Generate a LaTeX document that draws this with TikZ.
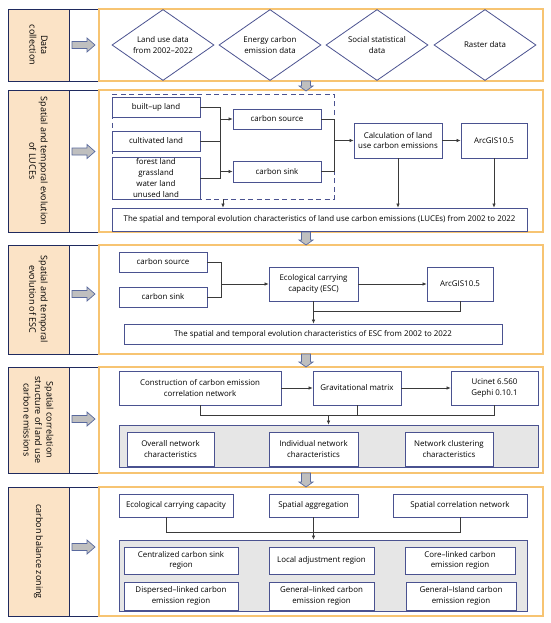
\documentclass[tikz,border=0pt]{standalone}
\usepackage{fontspec}
\setmainfont{Open Sans}
\usetikzlibrary{shapes.geometric,arrows.meta}
\definecolor{labfill}{HTML}{FBE3C6}
\definecolor{navy}{HTML}{1F2A5E}
\definecolor{oline}{HTML}{F7C472}
\definecolor{nline}{HTML}{4A5290}
\definecolor{cline}{HTML}{3A3A3A}
\definecolor{gfill}{HTML}{E6E6E6}
\definecolor{afill}{HTML}{BFBFBF}
\definecolor{aline}{HTML}{5A6A9E}
\newcommand\mynfont{\fontsize{7.9}{10.5}\selectfont}
\newcommand\mylfont{\fontsize{9}{11.5}\selectfont}
\newcommand\mybox[7]{\node[#1, minimum width={(#5)-(#3)}, minimum height={(#6)-(#4)}] (#2) at ({((#3)+(#5))/2},{-((#4)+(#6))/2}) {#7};}
\newcommand\rblk[2]{\draw[blk] ({#1},{-#2+3.5}) -- ({#1+15},{-#2+3.5}) -- ({#1+15},{-#2+7}) -- ({#1+23},{-#2}) -- ({#1+15},{-#2-7}) -- ({#1+15},{-#2-3.5}) -- ({#1},{-#2-3.5}) -- cycle;}
\newcommand\dblk[3]{\draw[blk] ({#1-4.5},{-#2}) -- ({#1+4.5},{-#2}) -- ({#1+4.5},{-#3+5}) -- ({#1+7},{-#3+5}) -- ({#1},{-#3}) -- ({#1-7},{-#3+5}) -- ({#1-4.5},{-#3+5}) -- cycle;}
\tikzset{
  nbox/.style={draw=nline, fill=white, line width=0.8pt, inner sep=1pt, align=center, font=\mynfont},
  gbox/.style={draw=nline, fill=gfill, line width=0.8pt, inner sep=0pt},
  dbox/.style={draw=nline, line width=0.8pt, dash pattern=on 5pt off 3.5pt, inner sep=0pt},
  labbox/.style={draw=navy, fill=labfill, line width=0.9pt, inner sep=0pt},
  wbox/.style={draw=navy, fill=white, line width=0.9pt, inner sep=0pt},
  obox/.style={draw=oline, line width=1.2pt, inner sep=0pt},
  dia/.style={shape=diamond, draw=nline, fill=white, line width=0.8pt, aspect=1.44, inner sep=0pt, align=center, font=\mynfont, minimum width=102, minimum height=71},
  conn/.style={draw=cline, line width=0.6pt},
  arr/.style={conn, -{Latex[length=4pt,width=3.5pt]}},
  blk/.style={fill=afill, draw=aline, line width=0.7pt},
  labtxt/.style={rotate=-90, align=center, font=\mylfont, inner sep=0pt},
}
\begin{document}
\begin{tikzpicture}[x=1pt,y=1pt]
\useasboundingbox (0,0) rectangle (550,-623);
\fill[white] (0,0) rectangle (550,-623);

% ---------- frames ----------
\mybox{labbox}{L1}{8}{9}{69}{81}{}
\mybox{wbox}{W1}{69}{9}{99}{81}{}
\mybox{obox}{O1}{99}{9}{543}{81}{}
\node[labtxt] (L1t) at (L1) {Data\\collection};

\mybox{labbox}{L2}{8}{90}{69}{232}{}
\mybox{wbox}{W2}{69}{90}{99}{232}{}
\mybox{obox}{O2}{99}{90}{543}{232}{}
\node[labtxt] (L2t) at (L2) {Spatial and temporal evolution\\of LUCEs};

\mybox{labbox}{L3}{8}{245}{69}{354}{}
\mybox{wbox}{W3}{69}{245}{99}{354}{}
\mybox{obox}{O3}{99}{245}{543}{354}{}
\node[labtxt] (L3t) at (L3) {Spatial and temporal\\evolution of ESC};

\mybox{labbox}{L4}{8}{367}{69}{473}{}
\mybox{wbox}{W4}{69}{367}{99}{473}{}
\mybox{obox}{O4}{99}{367}{543}{473}{}
\node[labtxt] (L4t) at (L4) {Spatial correlation\\structure of land use\\carbon emissions};

\mybox{labbox}{L5}{8}{487}{69}{616}{}
\mybox{wbox}{W5}{69}{487}{99}{616}{}
\mybox{obox}{O5}{99}{487}{543}{616}{}
\node[labtxt] (L5t) at (L5) {carbon balance zoning};

% block arrows
\rblk{72}{45}
\rblk{72}{151.5}
\rblk{72}{294}
\rblk{72}{419}
\rblk{72}{547}
\dblk{306}{81}{91}
\dblk{306}{232}{245}
\dblk{306}{354}{367}
\dblk{306}{473}{487}

% ---------- row 1 ----------
\node[dia] (d1) at (163,-45) {Land use data\\from 2002–2022};
\node[dia] (d2) at (270,-45) {Energy carbon\\emission data};
\node[dia] (d3) at (377,-45) {Social statistical\\data};
\node[dia] (d4) at (485,-45) {Raster data};

% ---------- row 2 ----------
\mybox{dbox}{D2}{112}{94}{334}{199}{}
\mybox{nbox}{bu}{112}{97}{200}{117}{built–up land}
\mybox{nbox}{cu}{112}{131}{200}{151}{cultivated land}
\mybox{nbox,font=\fontsize{7.9}{11}\selectfont}{fo}{112}{157}{200}{199}{forest land\\grassland\\water land\\unused land}
\mybox{nbox}{cs}{233}{109}{321}{129}{carbon source}
\mybox{nbox}{ck}{233}{161}{321}{182}{carbon sink}
\mybox{nbox}{calc}{354}{123}{442}{158}{Calculation of land\\use carbon emissions}
\mybox{nbox}{arc}{461}{123}{527}{158}{ArcGIS10.5}
\mybox{nbox}{big}{112}{208}{527}{231}{The spatial and temporal evolution characteristics of land use carbon emissions (LUCEs) from 2002 to 2022}

\coordinate (j2a) at (220,-178);
\draw[conn] (bu.east) -| (j2a) -- (fo.east);
\draw[conn] (cu.east) -- (cu.east -| j2a);
\draw[arr] (cs.west -| j2a) -- (cs.west);
\draw[arr] (ck.west -| j2a) -- (ck.west);
\coordinate (j2b) at (334,-171.5);
\draw[conn] (cs.east) -| (j2b) -- (ck.east);
\draw[arr] (calc.west -| j2b) -- (calc.west);
\draw[arr] (calc.east) -- (arc.west);
\draw[arr] (calc.south) -- (calc.south |- big.north);
\draw[arr] (arc.south) -- (arc.south |- big.north);
\draw[arr] (D2.south) -- (D2.south |- big.north);

% ---------- row 3 ----------
\mybox{nbox}{cs3}{119}{252}{207}{272}{carbon source}
\mybox{nbox}{ck3}{119}{287}{207}{307}{carbon sink}
\mybox{nbox}{esc}{269}{267}{358}{301}{Ecological carrying\\capacity (ESC)}
\mybox{nbox}{arc3}{427}{267}{493}{301}{ArcGIS10.5}
\mybox{nbox}{big3}{124}{324}{502}{344}{The spatial and temporal evolution characteristics of ESC from 2002 to 2022}

\coordinate (j3a) at (221,-297);
\draw[conn] (cs3.east) -| (j3a) -- (ck3.east);
\draw[arr] (esc.west -| j3a) -- (esc.west);
\draw[arr] (esc.east) -- (arc3.west);
\draw[arr] (esc.south) -- (esc.south |- big3.north);
\coordinate (j3b) at (0,-311);
\draw[conn] (arc3.south) |- (esc.south |- j3b);

% ---------- row 4 ----------
\mybox{nbox}{con}{119}{371}{281}{405}{Construction of carbon emission\\correlation network}
\mybox{nbox}{grav}{313}{371}{401}{405}{Gravitational matrix}
\mybox{nbox}{uci}{451}{371}{538}{405}{Ucinet 6.560\\Gephi 0.10.1}
\mybox{gbox}{G4}{119}{425}{538}{467}{}
\mybox{nbox}{ov}{127}{432}{214}{466}{Overall network\\characteristics}
\mybox{nbox}{ind}{269}{432}{358}{466}{Individual network\\characteristics}
\mybox{nbox}{nc}{405}{432}{493}{466}{Network clustering\\characteristics}

\draw[arr] (con.east) -- (grav.west);
\draw[arr] (grav.east) -- (uci.west);
\coordinate (j4) at (0,-415);
\draw[conn] (con.south) |- (uci.south |- j4) -- (uci.south);
\draw[conn] (grav.south) -- (grav.south |- j4);
\draw[arr] (G4.north |- j4) -- (G4.north);

% ---------- row 5 ----------
\mybox{nbox}{eco}{119}{494}{233}{517}{Ecological carrying capacity}
\mybox{nbox}{sa}{269}{494}{358}{517}{Spatial aggregation}
\mybox{nbox}{scn}{393}{494}{527}{517}{Spatial correlation network}
\mybox{gbox}{G5}{119}{540}{527}{611}{}
\mybox{nbox}{cz}{124}{547}{238}{574}{Centralized carbon sink\\region}
\mybox{nbox}{la}{269}{547}{374}{574}{Local adjustment region}
\mybox{nbox}{cl}{405}{547}{515}{574}{Core–linked carbon\\emission region}
\mybox{nbox}{dl}{124}{582}{238}{610}{Dispersed–linked carbon\\emission region}
\mybox{nbox}{gl}{269}{582}{374}{610}{General–linked carbon\\emission region}
\mybox{nbox}{gi}{406}{582}{516}{610}{General–Island carbon\\emission region}

\coordinate (j5a) at (166,-532);
\draw[conn] (eco.south -| j5a) -- (j5a) -- (scn.south |- j5a) -- (scn.south);
\draw[arr] (sa.south) -- (sa.south |- G5.north);
\end{tikzpicture}
\end{document}
